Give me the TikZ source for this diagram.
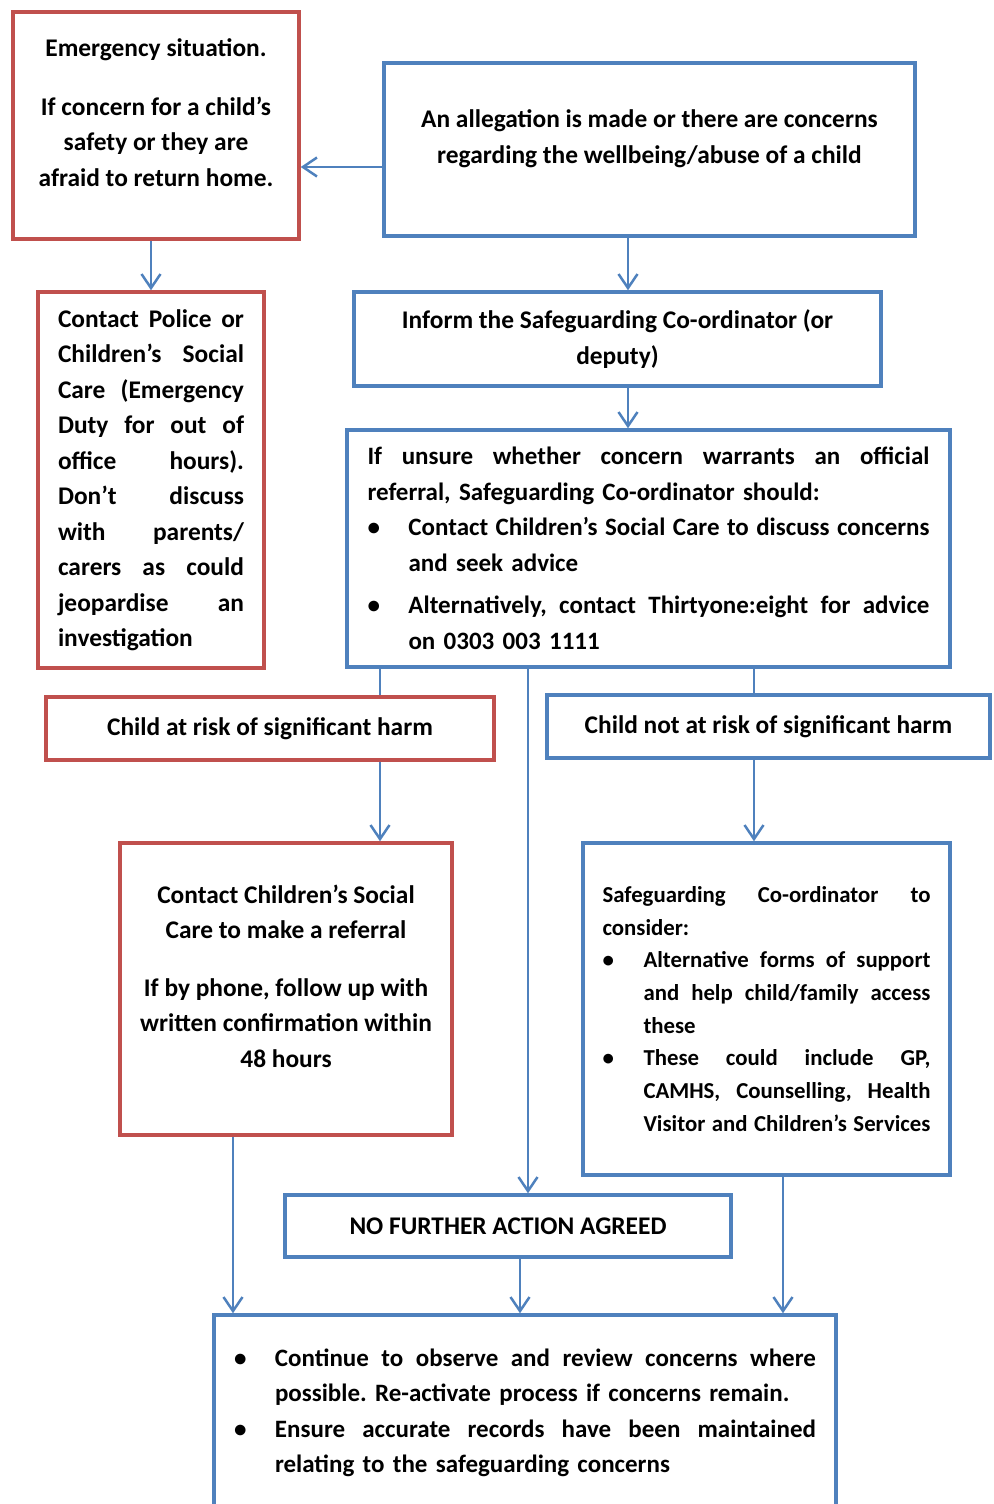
\documentclass[tikz,border=0pt]{standalone}
\usepackage{fontspec}
\setmainfont{Carlito}
\usepackage{tikz}
\usetikzlibrary{arrows.meta}
\usetikzlibrary{positioning}

\definecolor{boxred}{RGB}{192,80,77}
\definecolor{boxblue}{RGB}{79,129,189}

\newlength{\bulind}
\setlength{\bulind}{41pt}
\newlength{\jwd}
\newcommand{\jline}[1]{\makebox[\jwd][s]{\spaceskip=0pt\xspaceskip=0pt #1}}
\newcommand{\bjline}[1]{\makebox[\bulind][l]{\textbullet}\makebox[\dimexpr\jwd-\bulind\relax][s]{\spaceskip=0pt\xspaceskip=0pt #1}}
\newcommand{\iline}[1]{\hspace*{\bulind}#1}
\newcommand{\ijline}[1]{\hspace*{\bulind}\makebox[\dimexpr\jwd-\bulind\relax][s]{\spaceskip=0pt\xspaceskip=0pt #1}}

\tikzset{
	flowbox/.style={draw, line width=3.5pt, inner sep=0pt, font=\bfseries\fontsize{25.4}{35.5}\selectfont},
	redbox/.style={flowbox, draw=boxred},
	bluebox/.style={flowbox, draw=boxblue},
	justbox/.style={text width=#1, align=left, execute at begin node={\frenchspacing\setlength{\jwd}{#1}}},
	flowarrow/.style={draw=boxblue, line width=2.5pt, -{Straight Barb[length=14pt,width=19pt]}},
	flowline/.style={draw=boxblue, line width=2.5pt}
}

\begin{document}
\begin{tikzpicture}[x=1pt, y=-1pt]
	\useasboundingbox (0,0) rectangle (993,1504);
	\clip (0,0) rectangle (993,1504);
	\node[redbox, minimum width=286pt, minimum height=227pt, align=center] (emerg) at (156,125.5) {Emergency situation.\\[23pt] If concern for a child’s\\ safety or they are\\ afraid to return home.\\[-9.5pt]\mbox{}};
	\node[bluebox, minimum width=531pt, minimum height=173pt, align=center] (alleg) at (649.5,149.5) {An allegation is made or there are concerns\\ regarding the wellbeing/abuse of a child\\[-9.5pt]\mbox{}};
	\node[redbox, minimum width=226pt, minimum height=376pt, justbox=186pt] (police) at (151,480) {\jline{Contact Police or}\\ \jline{Children’s Social}\\ \jline{Care (Emergency}\\ \jline{Duty for out of}\\ \jline{office hours).}\\ \jline{Don’t discuss}\\ \jline{with parents/}\\ \jline{carers as could}\\ \jline{jeopardise an}\\ investigation};
	\node[bluebox, minimum width=527pt, minimum height=94pt, align=center] (inform) at (617.5,339) {Inform the Safeguarding Co-ordinator (or\\ deputy)};
	\node[bluebox, minimum width=603pt, minimum height=237pt, justbox=562pt, font=\bfseries\fontsize{25}{35.5}\selectfont] (unsure) at (648.5,548.5) {\jline{If unsure whether concern warrants an official}\\ referral, Safeguarding Co-ordinator should:\\ \bjline{Contact Children’s Social Care to discuss concerns}\\ \iline{and seek advice}\\[7pt] \bjline{Alternatively, contact Thirtyone:eight for advice}\\ \iline{on 0303 003 1111}};
	\node[redbox, minimum width=448pt, minimum height=63pt] (risk) at (270,728.5) {Child at risk of significant harm};
	\node[bluebox, minimum width=443pt, minimum height=63pt] (norisk) at (768.5,726.5) {Child not at risk of significant harm};
	\node[redbox, minimum width=332pt, minimum height=292pt, align=center] (referral) at (286,989) {Contact Children’s Social\\ Care to make a referral\\[22pt] If by phone, follow up with\\ written confirmation within\\ 48 hours\\[-9.5pt]\mbox{}};
	\node[bluebox, minimum width=367pt, minimum height=332pt, justbox=328pt, font=\bfseries\fontsize{22.8}{32.7}\selectfont] (consider) at (766.5,1009) {\jline{Safeguarding Co-ordinator to}\\ consider:\\ \bjline{Alternative forms of support}\\ \ijline{and help child/family access}\\ \iline{these}\\ \bjline{These could include GP,}\\ \ijline{CAMHS, Counselling, Health}\\ \ijline{Visitor and Children’s Services}};
	\node[bluebox, minimum width=446pt, minimum height=62pt] (nfa) at (508,1226) {NO FURTHER ACTION AGREED};
	\node[bluebox, minimum width=622pt, minimum height=196pt, justbox=582pt, font=\bfseries\fontsize{25}{35.5}\selectfont] (review) at (525,1413) {\bjline{Continue to observe and review concerns where}\\ \iline{possible. Re-activate process if concerns remain.}\\ \bjline{Ensure accurate records have been maintained}\\ \iline{relating to the safeguarding concerns}};
	\draw[flowarrow] ([yshift=-17.5pt]alleg.west) -- ([yshift=-17.5pt]alleg.west -| emerg.east);
	\draw[flowarrow] (police.north |- emerg.south) -- (police.north);
	\draw[flowarrow] ([xshift=-21.5pt]alleg.south) -- ([xshift=-21.5pt]alleg.south |- inform.north);
	\draw[flowarrow] ([xshift=10.5pt]inform.south) -- ([xshift=10.5pt]inform.south |- unsure.north);
	\draw[flowline] ([xshift=110pt]risk.north |- unsure.south) -- ([xshift=110pt]risk.north);
	\draw[flowline] ([xshift=-14.5pt]norisk.north |- unsure.south) -- ([xshift=-14.5pt]norisk.north);
	\draw[flowarrow] ([xshift=20pt]nfa.north |- unsure.south) -- ([xshift=20pt]nfa.north);
	\draw[flowarrow] ([xshift=110pt]risk.south) -- ([xshift=110pt]risk.south |- referral.north);
	\draw[flowarrow] ([xshift=-14.5pt]norisk.south) -- ([xshift=-14.5pt]norisk.south |- consider.north);
	\draw[flowarrow] ([xshift=-53pt]referral.south) -- ([xshift=-53pt]referral.south |- review.north);
	\draw[flowarrow] ([xshift=12pt]nfa.south) -- ([xshift=12pt]nfa.south |- review.north);
	\draw[flowarrow] ([xshift=16.5pt]consider.south) -- ([xshift=16.5pt]consider.south |- review.north);
\end{tikzpicture}
\end{document}
